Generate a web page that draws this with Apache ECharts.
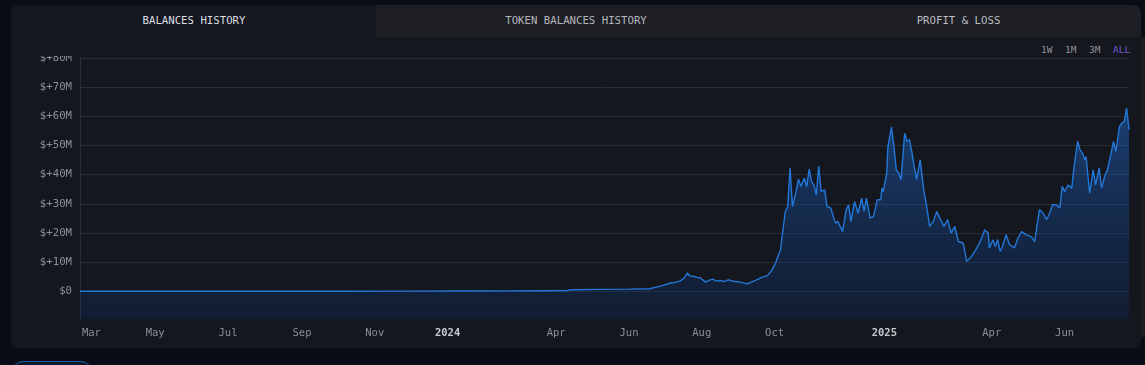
<!DOCTYPE html>
<html>
<head>
<meta charset="utf-8">
<script src="https://cdn.jsdelivr.net/npm/echarts@6/dist/echarts.min.js"></script>
<style>
  html, body { margin:0; padding:0; background:#0a0d15; width:1145px; height:365px; overflow:hidden; }
  body { position:relative; font-family:"DejaVu Sans Mono", "Liberation Mono", monospace; }
  #card { position:absolute; left:11px; top:5px; width:1130px; height:343px; background:#15171f; border-radius:8px; overflow:hidden; }
  .tab { position:absolute; top:0; height:32px; line-height:32px; text-align:center; font-size:10.7px; letter-spacing:0; }
  #t1 { left:1px; width:364px; color:#dcdee4; }
  #t2 { left:365px; width:400px; background:#1e1f25; color:#b4b6bc; }
  #t3 { left:765px; width:365px; background:#1e1f25; color:#b9bbc0; }
  .btn { position:absolute; top:38px; font-size:9.5px; color:#8f9198; height:14px; line-height:14px; }
  #chart { position:absolute; left:12px; top:56px; width:1128px; height:292px; }
  #pill { position:absolute; left:12px; top:361px; width:78px; height:22px; border:1.5px solid #1d5aa6; border-radius:11px; background:#0d1a2e; }
  #edge { position:absolute; left:1141px; top:37px; width:4px; height:300px; background:#1b1d23; }
</style>
</head>
<body>
<div id="card">
  <div class="tab" id="t1">BALANCES HISTORY</div>
  <div class="tab" id="t2">TOKEN BALANCES HISTORY</div>
  <div class="tab" id="t3">PROFIT &amp; LOSS</div>
  <div class="btn" style="left:1030px">1W</div>
  <div class="btn" style="left:1054px">1M</div>
  <div class="btn" style="left:1078px">3M</div>
  <div class="btn" style="left:1102px;color:#6b5cd0">ALL</div>
</div>
<div id="edge"></div>
<div id="chart"></div>
<div id="pill"></div>
<script>
// ---- data (values in millions of USD) ----
const dates = [
'2023-02-27','2023-04-01','2023-06-01','2023-08-01','2023-10-01','2023-12-01','2024-01-15','2024-02-20',
'2024-03-19','2024-04-10','2024-04-14','2024-05-08','2024-06-02','2024-06-18','2024-06-23','2024-06-29',
'2024-07-06','2024-07-10','2024-07-14','2024-07-17','2024-07-20','2024-07-22','2024-07-25','2024-07-28',
'2024-07-31','2024-08-04','2024-08-07','2024-08-10','2024-08-13','2024-08-17','2024-08-20','2024-08-23',
'2024-08-26','2024-08-29','2024-09-03','2024-09-08','2024-09-15','2024-09-21','2024-09-25','2024-09-29',
'2024-10-02','2024-10-06','2024-10-08','2024-10-10','2024-10-12','2024-10-14','2024-10-16','2024-10-19',
'2024-10-21','2024-10-23','2024-10-26','2024-10-28','2024-10-30','2024-11-01','2024-11-03','2024-11-05',
'2024-11-07','2024-11-09','2024-11-12','2024-11-14','2024-11-17','2024-11-21','2024-11-23','2024-11-27',
'2024-11-30','2024-12-02','2024-12-04','2024-12-07','2024-12-10','2024-12-13','2024-12-15','2024-12-17',
'2024-12-20','2024-12-23','2024-12-26','2024-12-29','2024-12-30','2024-12-31','2025-01-03','2025-01-04',
'2025-01-07','2025-01-09','2025-01-11','2025-01-13','2025-01-15','2025-01-18','2025-01-20','2025-01-22',
'2025-01-24','2025-01-26','2025-01-28','2025-01-31','2025-02-03','2025-02-05','2025-02-08','2025-02-11',
'2025-02-14','2025-02-17','2025-02-20','2025-02-23','2025-02-26','2025-03-01','2025-03-04','2025-03-08',
'2025-03-11','2025-03-15','2025-03-17','2025-03-21','2025-03-24','2025-03-26','2025-03-29','2025-03-30',
'2025-04-02','2025-04-04','2025-04-06','2025-04-08','2025-04-10','2025-04-13','2025-04-16','2025-04-20',
'2025-04-23','2025-04-26','2025-04-30','2025-05-04','2025-05-07','2025-05-09','2025-05-11','2025-05-14',
'2025-05-17','2025-05-19','2025-05-22','2025-05-25','2025-05-28','2025-05-30','2025-06-01','2025-06-04',
'2025-06-07','2025-06-09','2025-06-12','2025-06-14','2025-06-16','2025-06-18','2025-06-19','2025-06-22',
'2025-06-25','2025-06-27','2025-06-30','2025-07-02','2025-07-05','2025-07-07','2025-07-10','2025-07-12',
'2025-07-14','2025-07-17','2025-07-19','2025-07-21','2025-07-23','2025-07-25'
];
const balances = [
0.05,0.06,0.06,0.07,0.08,0.1,0.15,0.2,
0.25,0.3,0.6,0.7,0.8,0.9,1.4,2.0,
2.9,3.1,3.6,4.5,6.3,5.3,5.2,4.8,
4.6,3.2,3.8,4.2,3.6,3.7,3.4,4.0,
3.6,3.4,3.1,2.6,3.8,4.9,5.4,7.4,
9.9,14.3,21.1,27.4,28.9,42.3,29.1,34.2,
38.5,36.0,38.8,36.0,41.9,37.7,36.5,33.1,
43.0,34.2,34.8,29.1,28.6,23.4,24.0,20.5,
28.0,29.7,24.0,30.8,26.8,32.0,27.4,32.0,
25.1,25.7,31.4,31.4,35.4,34.2,40.5,49.7,
56.3,49.7,41.7,40.5,38.3,54.2,51.4,52.0,
47.9,42.8,38.3,45.1,34.8,30.3,22.3,24.0,
27.4,24.6,22.3,24.6,20.0,22.3,17.1,16.6,
10.3,12.0,13.2,16.0,18.8,21.1,20.0,14.9,
17.7,15.4,17.7,13.7,15.4,19.4,16.0,14.9,
18.3,20.5,19.4,18.8,17.1,22.8,28.0,26.8,
24.6,26.3,29.7,29.7,28.6,36.0,34.2,36.5,
35.4,42.8,51.4,48.5,47.4,45.1,46.2,33.7,
41.7,36.5,42.3,35.4,40.0,41.7,47.4,51.4,
47.9,56.5,57.7,58.2,62.8,55.4
];
const tickDates = ['2023-03-01','2023-05-01','2023-07-01','2023-09-01','2023-11-01','2024-01-01',
                   '2024-04-01','2024-06-01','2024-08-01','2024-10-01','2025-01-01','2025-04-01','2025-06-01'];
const tickLabels = ['Mar','May','Jul','Sep','Nov','2024','Apr','Jun','Aug','Oct','2025','Apr','Jun'];
const yTicks = [0,10,20,30,40,50,60,70,80];
const yMin = -9.45, yMax = 80;

function ts(s){ const p = s.split('-').map(Number); return new Date(p[0], p[1]-1, p[2]).getTime(); }
const seriesData = dates.map((d,i) => [ts(d), balances[i]*1e6]);
const tickTs = tickDates.map(ts);
const labelMap = {};
tickTs.forEach((t,i) => labelMap[t] = tickLabels[i]);
const firstTick = tickTs[0];

const chart = echarts.init(document.getElementById('chart'), null, {renderer:'canvas'});
const axisFont = '"DejaVu Sans Mono", monospace';
chart.setOption({
  animation:false,
  backgroundColor:'transparent',
  grid:{ left:68, right:11, top:2, bottom:29, outerBoundsMode:'none', containLabel:false },
  xAxis:{
    type:'value',
    min: ts(dates[0]), max: ts(dates[dates.length-1]),
    axisLine:{ show:true, lineStyle:{ color:'#2b2e36', width:1 } },
    axisTick:{ show:false, customValues: tickTs },
    splitLine:{ show:false },
    axisLabel:{
      customValues: tickTs,
      margin:9,
      color:'#8b8e96',
      fontFamily: axisFont,
      fontSize:10.5,
      formatter: function(v){
        const l = labelMap[v] || '';
        if (/^\d{4}$/.test(l)) return '{y|' + l + '}';
        if (Math.abs(v - firstTick) < 1000) return '{f|' + l + '}';
        return '{m|' + l + '}';
      },
      rich:{
        y:{ fontWeight:'bold', color:'#c8cad0', fontFamily: axisFont, fontSize:10.5 },
        m:{ color:'#8b8e96', fontFamily: axisFont, fontSize:10.5 },
        f:{ width:37, align:'right', color:'#8b8e96', fontFamily: axisFont, fontSize:10.5 }
      }
    }
  },
  yAxis:{
    type:'value',
    min: yMin*1e6, max: yMax*1e6,
    axisLine:{ show:true, lineStyle:{ color:'#2b2e36', width:1 } },
    axisTick:{ show:false, customValues: yTicks.map(v=>v*1e6) },
    splitLine:{ show:true, lineStyle:{ color:'#2a2c33', width:1 } },
    axisLabel:{
      customValues: yTicks.map(v=>v*1e6),
      margin:8,
      color:'#8c8f97',
      fontFamily: axisFont,
      fontSize:10.7,
      formatter: function(v){ const m = Math.round(v/1e6); return m === 0 ? '$0' : '$+' + m + 'M'; }
    }
  },
  series:[{
    type:'line',
    data: seriesData,
    showSymbol:false,
    smooth:false,
    lineStyle:{ color:'#2277d8', width:1.4 },
    areaStyle:{
      origin:'start',
      color: new echarts.graphic.LinearGradient(0,0,0,1,[
        { offset:0, color:'rgba(35,110,210,0.68)' },
        { offset:1, color:'rgba(10,45,100,0.40)' }
      ])
    }
  }]
});
</script>
</body>
</html>
